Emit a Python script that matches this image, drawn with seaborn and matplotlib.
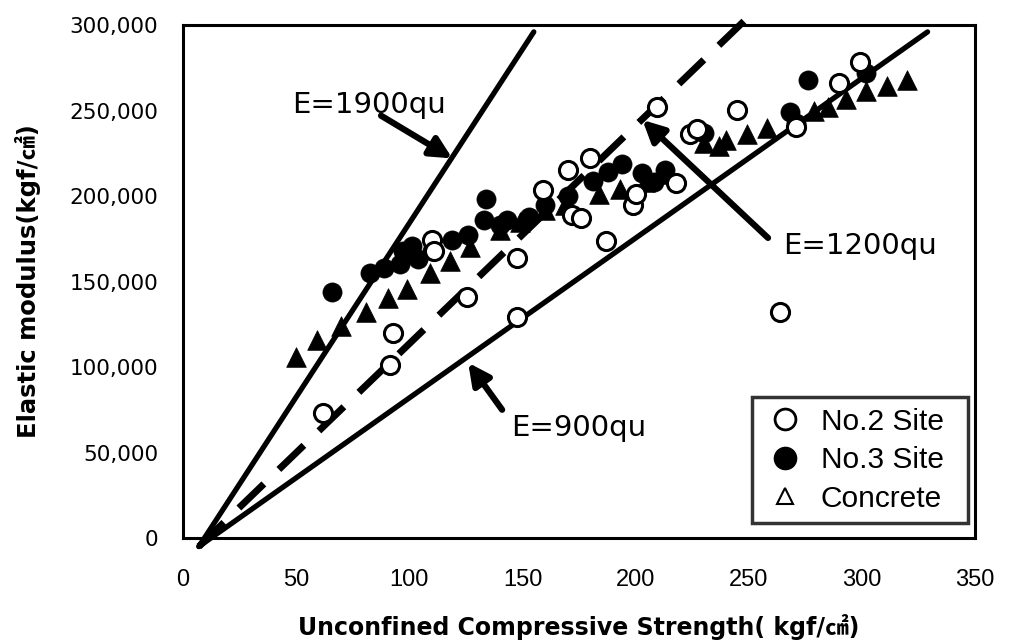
import matplotlib
matplotlib.use("Agg")
import matplotlib.pyplot as plt
from matplotlib import font_manager
from matplotlib.lines import Line2D
import seaborn as sns
import pandas as pd

# ---------------- data ----------------
site2_x = [62, 91.5, 93, 110, 111, 125.5, 147.5, 147.5, 159, 170, 180, 172, 176, 187,
           199, 200, 218, 209.5, 224, 227, 245, 264, 271, 290, 299]
site2_y = [73000, 101000, 120000, 174000, 168000, 141000, 164000, 129500, 203500, 215000,
           222500, 189000, 187000, 173500, 195000, 201000, 207500, 252000, 236000, 239000,
           250500, 132000, 240500, 266000, 278500]

site3_x = [66, 82.5, 89, 96, 97, 101, 104, 110, 119, 126, 134, 133, 140, 143, 153, 160,
           170, 181, 188, 194, 203, 208, 213, 230, 268, 271, 276, 302]
site3_y = [144000, 155000, 158000, 160000, 168000, 171000, 163000, 168000, 174000, 177000,
           198000, 186000, 183000, 186000, 188000, 195000, 200000, 209000, 214000, 219000,
           213500, 208000, 215000, 237000, 249000, 243000, 268000, 272000]

conc_x = [50, 59, 70, 81, 90.5, 99, 109, 118, 127, 140, 149, 160, 169, 184, 193, 204,
          211, 230, 237, 240, 249, 258, 279, 285, 293, 302, 311, 320]
conc_y = [106000, 116000, 124000, 132000, 140500, 145500, 155000, 162000, 170000, 180000,
          185000, 192000, 195000, 201000, 204000, 208000, 213000, 231000, 229000, 232500,
          236000, 240000, 249500, 252000, 257000, 261500, 264500, 268000]

# reference lines (end points)
line1900_x = [7, 155]
line1900_y = [-5000, 296000]
line1200_x = [7, 250]
line1200_y = [-5000, 305000]
line900_x = [7, 329]
line900_y = [-5000, 296000]

x_ticks = [0, 50, 100, 150, 200, 250, 300, 350]
y_ticks = [0, 50000, 100000, 150000, 200000, 250000, 300000]
y_tick_labels = ["0", "50,000", "100,000", "150,000", "200,000", "250,000", "300,000"]

legend_labels = ["No.2 Site", "No.3 Site", "Concrete"]
x_label = "Unconfined Compressive Strength( kgf/㎠)"
y_label = "Elastic modulus(kgf/㎠)"

# ---------------- style ----------------
sns.set_theme(style="white")
names = {f.name for f in font_manager.fontManager.ttflist}
narrow = "Liberation Sans Narrow" if "Liberation Sans Narrow" in names else "Liberation Sans"
plt.rcParams["font.family"] = ["DejaVu Sans", "Noto Sans CJK KR"]
plt.rcParams["text.color"] = "black"
plt.rcParams["axes.labelcolor"] = "black"
plt.rcParams["xtick.color"] = "black"
plt.rcParams["ytick.color"] = "black"

fig = plt.figure(figsize=(10.09, 6.42), dpi=100)
ax = fig.add_axes([0.1814, 0.162, 0.785, 0.799])

df2 = pd.DataFrame({"x": site2_x, "y": site2_y})
df3 = pd.DataFrame({"x": site3_x, "y": site3_y})
dfc = pd.DataFrame({"x": conc_x, "y": conc_y})

# lines
for lx, ly, dashed in [(line1900_x, line1900_y, False), (line900_x, line900_y, False),
                       (line1200_x, line1200_y, True)]:
    dfl = pd.DataFrame({"x": lx, "y": ly})
    if dashed:
        sns.lineplot(data=dfl, x="x", y="y", ax=ax, color="black", lw=5,
                     estimator=None, sort=False, clip_on=False, zorder=2,
                     dashes=False, linestyle=(0, (5, 3)))
    else:
        sns.lineplot(data=dfl, x="x", y="y", ax=ax, color="black", lw=3.8,
                     estimator=None, sort=False, clip_on=False, zorder=2)

# points
sns.scatterplot(data=dfc, x="x", y="y", ax=ax, marker="^", s=200, color="black",
                edgecolor="black", linewidth=0.5, zorder=3)
sns.scatterplot(data=df3, x="x", y="y", ax=ax, marker="o", s=190, color="black",
                edgecolor="black", linewidth=0.5, zorder=4)
sns.scatterplot(data=df2, x="x", y="y", ax=ax, marker="o", s=170, color="white",
                edgecolor="black", linewidth=2.2, zorder=5)

# annotations
arrow_kw = dict(arrowstyle="-|>", lw=4.5, color="black", mutation_scale=32,
                shrinkA=0, shrinkB=0)
ax.annotate("", xy=(119, 222000), xytext=(87.5, 247000), arrowprops=arrow_kw, zorder=6)
ax.text(48, 253500, "E=1900qu", fontsize=21, va="center", ha="left", zorder=7)
ax.annotate("", xy=(203, 244500), xytext=(258.5, 175500), arrowprops=arrow_kw, zorder=6)
ax.text(265, 170500, "E=1200qu", fontsize=21, va="center", ha="left", zorder=7)
ax.annotate("", xy=(126, 102500), xytext=(141, 75000), arrowprops=arrow_kw, zorder=6)
ax.text(145, 64500, "E=900qu", fontsize=21, va="center", ha="left", zorder=7)

# axes
ax.set_xlim(0, 350)
ax.set_ylim(0, 300000)
ax.set_xticks(x_ticks)
ax.set_xticklabels([str(t) for t in x_ticks], fontsize=17, family=narrow)
ax.set_yticks(y_ticks)
ax.set_yticklabels(y_tick_labels, fontsize=15.5)
ax.tick_params(axis="both", direction="in", length=3, width=1, colors="black")
ax.tick_params(axis="x", pad=22)
ax.tick_params(axis="y", pad=18)
ax.set_xlabel(x_label, fontsize=17, fontweight="bold", labelpad=17, color="black")
ax.set_ylabel(y_label, fontsize=17.5, fontweight="bold", labelpad=20, color="black")
for sp in ax.spines.values():
    sp.set_color("black")
    sp.set_linewidth(2.2)

handles = [
    Line2D([], [], marker="o", ls="none", markerfacecolor="white", markeredgecolor="black",
           markersize=15, markeredgewidth=2),
    Line2D([], [], marker="o", ls="none", markerfacecolor="black", markeredgecolor="black",
           markersize=16),
    Line2D([], [], marker="^", ls="none", markerfacecolor="white", markeredgecolor="black",
           markersize=11, markeredgewidth=1.5),
]
leg = ax.legend(handles, legend_labels, loc="lower left",
                bbox_to_anchor=(0.7184, 0.029, 0.2728, 0.25), mode="expand",
                prop={"family": "Liberation Sans", "size": 21.5}, frameon=True, fancybox=False,
                borderpad=0.35, labelspacing=0.35, handletextpad=0.45, handlelength=1.5,
                borderaxespad=0)
leg.get_frame().set_edgecolor("black")
leg.get_frame().set_linewidth(2.5)
leg.set_zorder(10)

fig.savefig("out.png", dpi=100)
